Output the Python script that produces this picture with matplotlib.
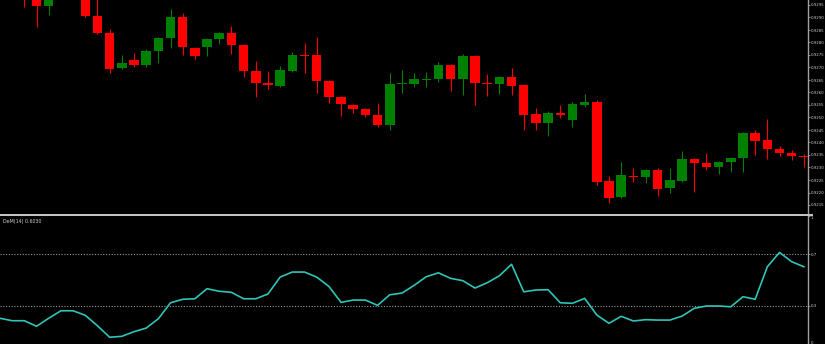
import numpy as np
import matplotlib.pyplot as plt
from matplotlib.lines import Line2D

# OHLC bars (price), oldest first
opens = [0.93090, 0.93030, 0.93018, 0.93002, 0.92946, 0.92994, 0.93050, 0.93002, 0.92906, 0.92838,
         0.92698, 0.92730, 0.92710, 0.92766, 0.92818, 0.92902, 0.92778, 0.92782, 0.92814, 0.92838,
         0.92790, 0.92686, 0.92638, 0.92626, 0.92686, 0.92750, 0.92750, 0.92646, 0.92582, 0.92550,
         0.92534, 0.92510, 0.92470, 0.92634, 0.92634, 0.92650, 0.92654, 0.92710, 0.92654, 0.92746,
         0.92638, 0.92634, 0.92662, 0.92630, 0.92514, 0.92478, 0.92518, 0.92490, 0.92550, 0.92562,
         0.92246, 0.92182, 0.92266, 0.92262, 0.92290, 0.92218, 0.92246, 0.92334, 0.92318, 0.92302,
         0.92322, 0.92338, 0.92438, 0.92410, 0.92374, 0.92358, 0.92346]
closes = [0.93030, 0.92990, 0.92986, 0.92946, 0.92994, 0.93050, 0.93002, 0.92906, 0.92838, 0.92694,
          0.92718, 0.92710, 0.92766, 0.92818, 0.92902, 0.92782, 0.92746, 0.92814, 0.92838, 0.92790,
          0.92686, 0.92638, 0.92630, 0.92690, 0.92750, 0.92746, 0.92646, 0.92582, 0.92554, 0.92534,
          0.92510, 0.92470, 0.92634, 0.92638, 0.92654, 0.92654, 0.92710, 0.92654, 0.92746, 0.92638,
          0.92634, 0.92662, 0.92626, 0.92510, 0.92478, 0.92518, 0.92510, 0.92554, 0.92562, 0.92242,
          0.92178, 0.92270, 0.92262, 0.92290, 0.92214, 0.92250, 0.92334, 0.92318, 0.92302, 0.92322,
          0.92338, 0.92438, 0.92406, 0.92374, 0.92358, 0.92346, 0.92342]
highs = [0.93130, 0.93050, 0.93042, 0.93018, 0.93010, 0.93070, 0.93082, 0.93018, 0.92990, 0.92854,
         0.92750, 0.92758, 0.92774, 0.92822, 0.92934, 0.92918, 0.92782, 0.92818, 0.92842, 0.92866,
         0.92794, 0.92726, 0.92686, 0.92706, 0.92762, 0.92798, 0.92822, 0.92650, 0.92586, 0.92554,
         0.92538, 0.92558, 0.92678, 0.92690, 0.92678, 0.92682, 0.92722, 0.92714, 0.92754, 0.92750,
         0.92674, 0.92666, 0.92698, 0.92634, 0.92538, 0.92526, 0.92550, 0.92562, 0.92594, 0.92570,
         0.92266, 0.92322, 0.92298, 0.92294, 0.92298, 0.92298, 0.92366, 0.92338, 0.92358, 0.92326,
         0.92342, 0.92442, 0.92450, 0.92494, 0.92386, 0.92370, 0.92354]
lows = [0.92990, 0.92978, 0.92942, 0.92862, 0.92910, 0.92982, 0.92978, 0.92902, 0.92834, 0.92678,
        0.92694, 0.92702, 0.92702, 0.92718, 0.92778, 0.92750, 0.92734, 0.92746, 0.92794, 0.92754,
        0.92662, 0.92582, 0.92614, 0.92622, 0.92682, 0.92678, 0.92598, 0.92558, 0.92506, 0.92518,
        0.92502, 0.92462, 0.92450, 0.92598, 0.92622, 0.92622, 0.92642, 0.92606, 0.92590, 0.92550,
        0.92586, 0.92594, 0.92590, 0.92450, 0.92450, 0.92426, 0.92498, 0.92462, 0.92542, 0.92230,
        0.92158, 0.92178, 0.92242, 0.92238, 0.92186, 0.92198, 0.92242, 0.92202, 0.92290, 0.92274,
        0.92282, 0.92282, 0.92350, 0.92334, 0.92346, 0.92330, 0.92302]

# DeMarker(14) values per bar
dem = [0.204, 0.185, 0.185, 0.142, 0.204, 0.262, 0.262, 0.227, 0.146, 0.057,
       0.064, 0.100, 0.128, 0.200, 0.324, 0.351, 0.355, 0.433, 0.413, 0.405,
       0.355, 0.355, 0.392, 0.523, 0.562, 0.562, 0.523, 0.451, 0.327, 0.345,
       0.345, 0.304, 0.386, 0.399, 0.459, 0.526, 0.556, 0.513, 0.495, 0.438,
       0.479, 0.533, 0.622, 0.409, 0.423, 0.425, 0.324, 0.320, 0.358, 0.229,
       0.165, 0.219, 0.183, 0.193, 0.190, 0.190, 0.221, 0.281, 0.299, 0.299,
       0.293, 0.371, 0.351, 0.603, 0.714, 0.642, 0.603]

price_ticks = [round(0.9295 - 0.0005 * k, 4) for k in range(17)]
dem_levels = [0.3, 0.7]
dem_ticks = [0, 0.3, 0.7, 1]

W, H = 825, 344
fig = plt.figure(figsize=(W / 100, H / 100), dpi=100, facecolor="black")

axis_x = 808
ax1 = fig.add_axes([0, 1 - 213 / H, axis_x / W, 213 / H], facecolor="black")
ax2 = fig.add_axes([0, (344 - 344.6) / H, axis_x / W, 129.1 / H], facecolor="black")

x = np.arange(len(opens))
o = np.array(opens)
c = np.array(closes)
up = c >= o
cols = np.where(up, "#008000", "#ff0000")

# candles
ax1.vlines(x, lows, highs, colors=cols, linewidth=0.8, zorder=2)
body_lo = np.minimum(o, c)
body_h = np.maximum(np.abs(c - o), 0.00005)
ax1.bar(x, body_h, bottom=body_lo, width=0.78, color=cols, linewidth=0, zorder=3)

ax1.set_xlim(0, axis_x / 12.18)
ax1.set_ylim(0.92118, 0.92970)
ax1.set_yticks(price_ticks)
ax1.set_yticklabels([f"{p:.4f}" for p in price_ticks])

# indicator
ax2.plot(x, dem, color="#2fc4b8", linewidth=1.2, zorder=3)
for lv in dem_levels:
    ax2.axhline(lv, color="#9a9a9a", linestyle=(0, (1, 1.5)), linewidth=0.8, zorder=1)
ax2.set_xlim(0, axis_x / 12.18)
ax2.set_ylim(0, 1)
ax2.set_yticks(dem_ticks)
ax2.set_yticklabels(["0", "0.3", "0.7", "1"])
ax2.text(0.004, 0.975, f"DeM(14) {dem[-1]:.4f}", transform=ax2.transAxes,
         color="#d0d0d0", fontsize=3.4, ha="left", va="top")

for ax in (ax1, ax2):
    for s in ("top", "left", "bottom"):
        ax.spines[s].set_visible(False)
    ax.spines["right"].set_color("#a0a0a0")
    ax.spines["right"].set_linewidth(1.0)
    ax.set_xticks([])
    ax.yaxis.tick_right()
    ax.tick_params(axis="y", colors="#a0a0a0", labelcolor="#d0d0d0",
                   labelsize=2.8, length=1.5, width=0.6, pad=0.5)

# keep the end labels of the indicator scale inside the window
dem_labels = ax2.get_yticklabels()
dem_labels[-1].set_va("top")
dem_labels[0].set_va("bottom")

# window separator
fig.add_artist(Line2D([0, 812 / W], [1 - 214.5 / H, 1 - 214.5 / H],
                      transform=fig.transFigure, color="#c8c8c8", linewidth=1.4))

fig.savefig("out.png", dpi=100, facecolor="black")
